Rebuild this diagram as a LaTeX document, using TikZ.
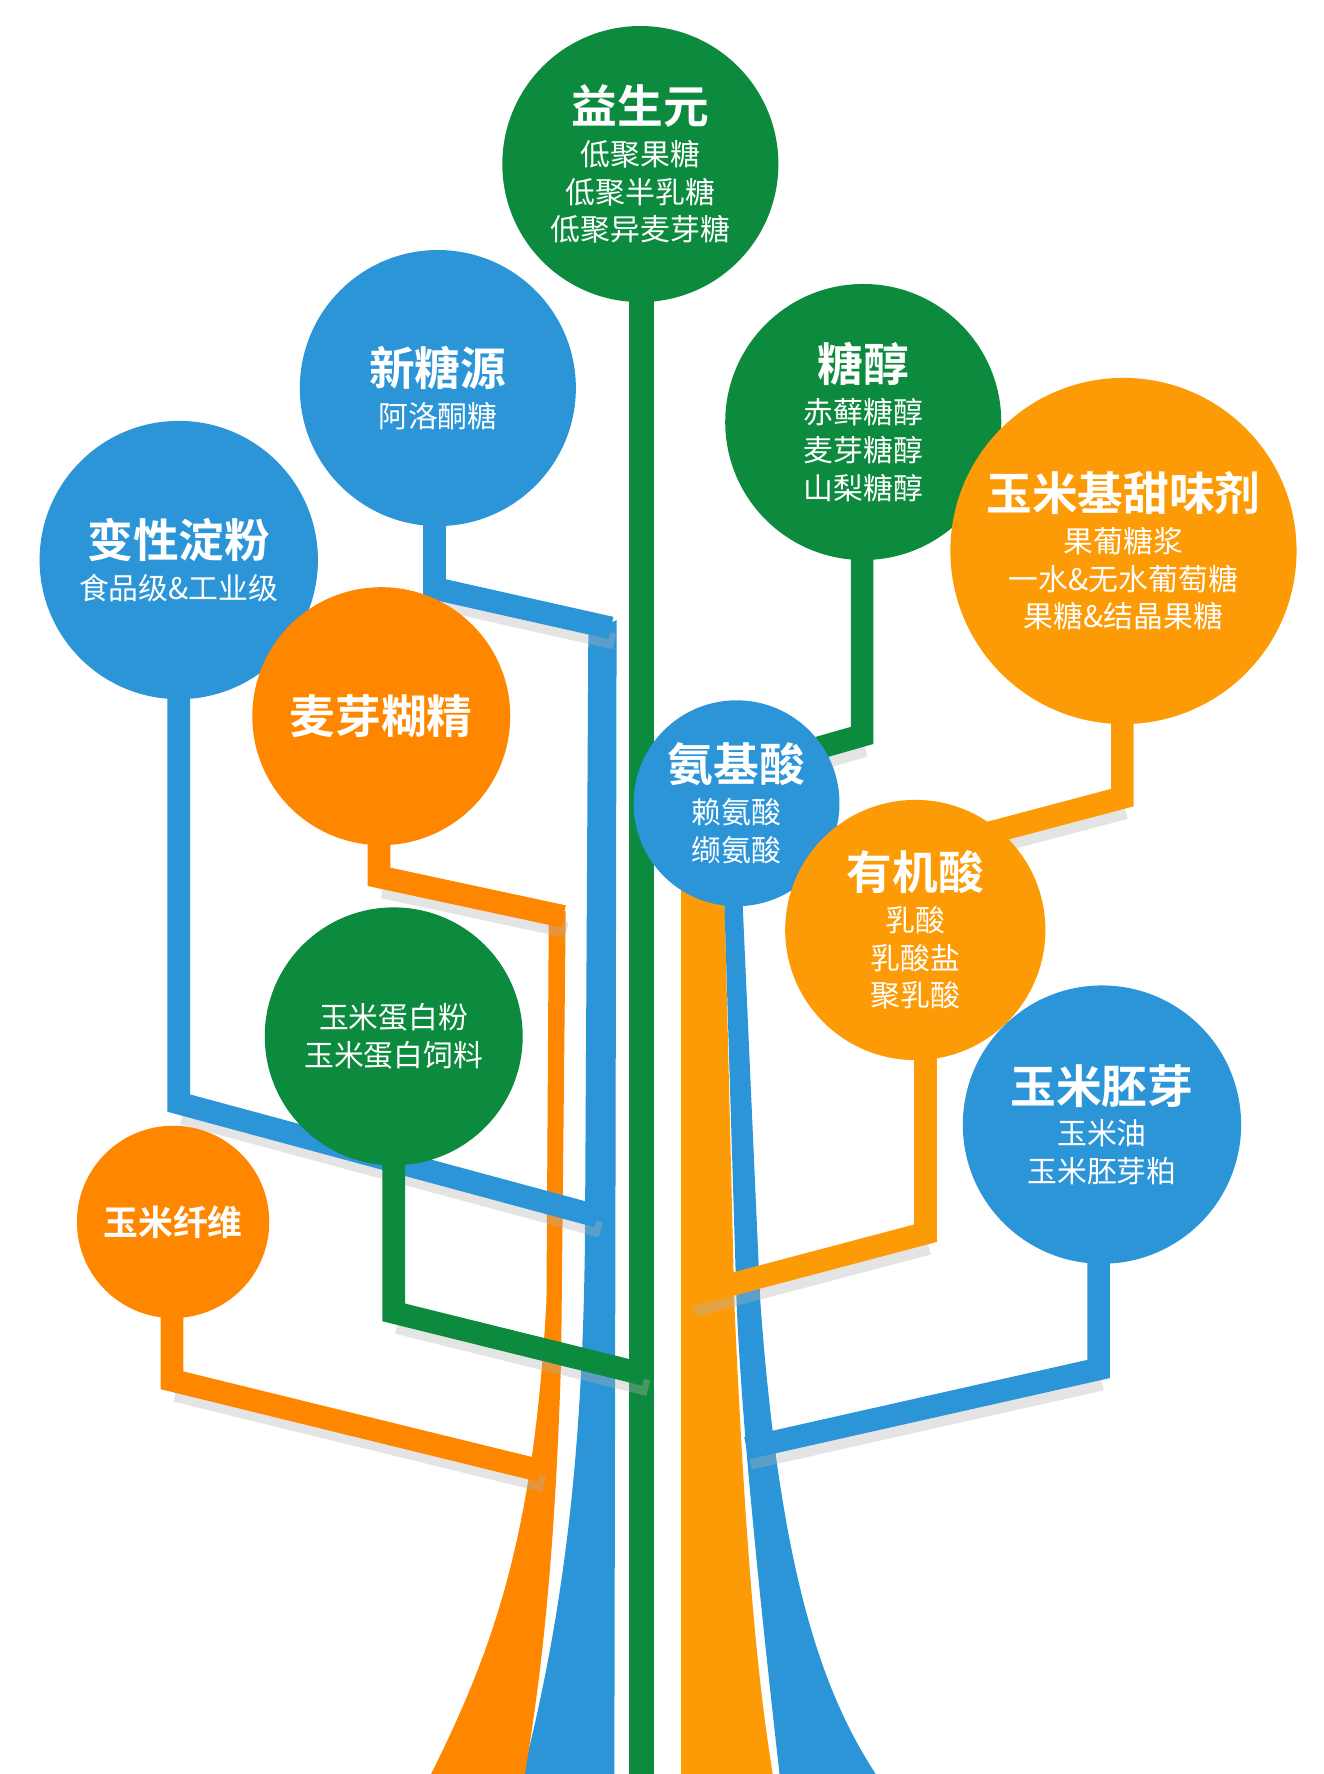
\documentclass[tikz,border=0pt]{standalone}
\usepackage{fontspec}
\newfontfamily\cjk{Noto Sans CJK SC}
\newfontfamily\cjkb{Noto Sans CJK SC Bold}
\definecolor{tgreen}{HTML}{0C8A3E}
\definecolor{tblue}{HTML}{2B95D8}
\definecolor{torange}{HTML}{FF8700}
\definecolor{tyellow}{HTML}{FD9B06}
\tikzset{
  bubble/.style={circle,inner sep=0pt,text=white,align=center,minimum size=#1*0.02cm,font=\cjk\fontsize{15}{19}\selectfont},
  branch/.style={line width=11.4pt},
  shade/.style={line width=8pt,black!30,opacity=0.35},
}
\newcommand\ttl[1]{{\cjkb\fontsize{23}{30}\selectfont #1}\\[2pt]}
\begin{document}
\begin{tikzpicture}[x=0.02cm,y=-0.02cm]
\useasboundingbox (0,0) rectangle (1170,1568);

% trunks
\fill[tblue] (520,560)--(545,548)--(543,1568)--(462,1568) .. controls (505,1400) and (515,1250) .. (517,1100)--cycle;
\fill[torange] (485,815)--(500,805)--(496,1200) .. controls (490,1400) and (475,1500) .. (464,1568)--(381,1568) .. controls (440,1450) and (472,1350) .. (483,1150)--cycle;
\fill[tyellow] (602,780)--(640,780)--(649,1150) .. controls (660,1400) and (672,1500) .. (683,1568)--(602,1568)--cycle;
\fill[tblue] (640,790)--(656,790)--(672,1150) .. controls (690,1400) and (730,1500) .. (774,1568)--(689,1568) .. controls (670,1400) and (655,1250) .. (651,1150)--cycle;
\fill[tgreen] (556,250) rectangle (578,1568);

% branches
\foreach \c/\xa/\ya/\yb/\xc/\yc in {
  tblue/384/440/520/540/555, tblue/158/600/975/528/1075,
  torange/335/740/775/498/810, tgreen/348/1020/1160/570/1215,
  torange/152/1150/1220/478/1300, tgreen/762/480/650/720/662,
  tyellow/992/620/705/860/740, tyellow/818/920/1090/610/1145,
  tblue/971/1100/1210/660/1280}{
  \draw[shade] (\xa+3,\yb+12)--(\xc+3,\yc+12);
  \draw[branch,\c] (\xa,\ya)--(\xa,\yb)--(\xc,\yc);
}

% bubbles
\node[bubble=244,fill=tgreen] (yishengyuan) at (566,145) {\ttl{益生元}低聚果糖\\低聚半乳糖\\低聚异麦芽糖};
\node[bubble=244,fill=tblue] (xintangyuan) at (387,343) {\ttl{新糖源}阿洛酮糖};
\node[bubble=244,fill=tgreen] (tangchun) at (763,373) {\ttl{糖醇}赤藓糖醇\\麦芽糖醇\\山梨糖醇};
\node[bubble=306,fill=tyellow] (tianweiji) at (993,487) {\ttl{玉米基甜味剂}果葡糖浆\\一水\&无水葡萄糖\\果糖\&结晶果糖};
\node[bubble=246,fill=tblue] (dianfen) at (158,495) {\ttl{变性淀粉}食品级\&工业级};
\node[bubble=228,fill=torange] (hujing) at (337,633) {{\cjkb\fontsize{23}{30}\selectfont 麦芽糊精}};
\node[bubble=182,fill=tblue] (anjisuan) at (651,710) {\ttl{氨基酸}赖氨酸\\缬氨酸};
\node[bubble=230,fill=tyellow] (youjisuan) at (809,822) {\ttl{有机酸}乳酸\\乳酸盐\\聚乳酸};
\node[bubble=228,fill=tgreen] (danbai) at (348,916) {玉米蛋白粉\\玉米蛋白饲料};
\node[bubble=246,fill=tblue] (peiya) at (974,994) {\ttl{玉米胚芽}玉米油\\玉米胚芽粕};
\node[bubble=170,fill=torange] (xianwei) at (153,1080) {{\cjkb\fontsize{17.5}{22}\selectfont 玉米纤维}};
\end{tikzpicture}
\end{document}
